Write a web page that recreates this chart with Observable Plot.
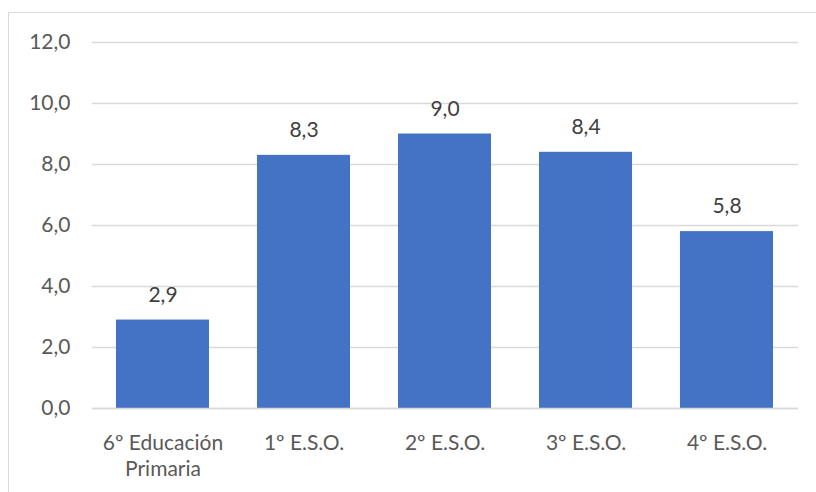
<!DOCTYPE html>
<html><head><meta charset="utf-8">
<script src="https://cdn.jsdelivr.net/npm/d3@7"></script>
<script src="https://cdn.jsdelivr.net/npm/@observablehq/plot@0.6"></script>
<style>
body{margin:0;background:#fff;overflow:hidden;}
#wrap{position:relative;width:816px;height:492px;}
#frame{position:absolute;left:8px;top:12px;width:900px;height:600px;border:1px solid #d9d9d9;box-sizing:border-box;}
#chart{position:absolute;left:0;top:0;}
</style></head>
<body><div id="wrap"><div id="frame"></div><div id="chart"></div></div>
<script>
const categories = ["6º Educación Primaria","1º E.S.O.","2º E.S.O.","3º E.S.O.","4º E.S.O."];
const values = [2.9, 8.3, 9.0, 8.4, 5.8];
const yTicks = [0, 2, 4, 6, 8, 10, 12];

const data = categories.map((c, i) => ({c, v: values[i]}));
const fmt = d => d.toFixed(1).replace(".", ",");
const font = "Lato, sans-serif";

const chart = Plot.plot({
  width: 816, height: 492,
  marginLeft: 92, marginRight: 18, marginTop: 42, marginBottom: 84,
  style: {fontFamily: font, background: "transparent"},
  x: {domain: categories, paddingInner: 0.34, paddingOuter: 0.17, label: null},
  y: {domain: [0, 12], label: null},
  marks: [
    Plot.gridY(yTicks, {stroke: "#d9d9d9", strokeOpacity: 1, strokeWidth: 1.3}),
    Plot.barY(data, {x: "c", y: "v", fill: "#4472C4"}),
    Plot.ruleY([0], {stroke: "#d9d9d9", strokeWidth: 1.3}),
    Plot.axisY(yTicks, {tickSize: 0, tickPadding: 22, tickFormat: fmt, fontSize: 21, fill: "#595959", label: null}),
    Plot.axisX({tickSize: 0, tickPadding: 23, fontSize: 21, fill: "#595959", lineHeight: 1.24, label: null,
      tickFormat: d => d.replace("Educación ", "Educación\n")}),
    Plot.text(data, {x: "c", y: "v", text: d => fmt(d.v), dy: -25, fill: "#404040", fontSize: 21})
  ]
});
document.getElementById("chart").appendChild(chart);
</script></body></html>
